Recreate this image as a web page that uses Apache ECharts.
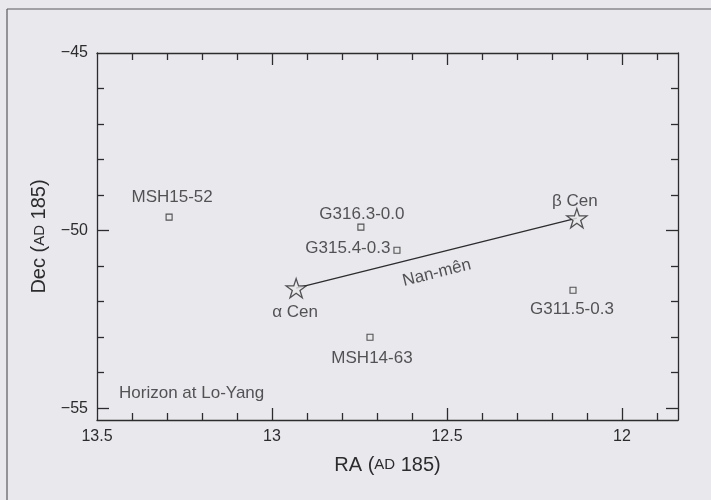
<!DOCTYPE html>
<html>
<head>
<meta charset="utf-8">
<script src="https://cdn.jsdelivr.net/npm/echarts@6/dist/echarts.min.js"></script>
<style>
html,body{margin:0;padding:0;background:#e9e8ec;}
#chart{width:711px;height:500px;}
</style>
</head>
<body>
<div id="chart"></div>
<script>
// ---- data ----
const snrNames = ['MSH15-52', 'G316.3-0.0', 'G315.4-0.3', 'MSH14-63', 'G311.5-0.3'];
const snrRA    = [13.294, 12.746, 12.643, 12.72, 12.14];
const snrDec   = [-49.62, -49.90, -50.55, -53.00, -51.68];

const starNames = ['α Cen', 'β Cen'];
const starRA    = [12.931, 12.129];
const starDec   = [-51.62, -49.65];

const asterismName = 'Nan-mên';
const asterismLabelAt = [12.529, -51.19];
const horizonText = 'Horizon at Lo-Yang';
const horizonAt = [13.437, -54.58];

const xMajorLabels = [12, 12.5, 13, 13.5];
const xMajorTicks = [12, 12.5, 13];
const xMinorTicks = [11.9, 12.1, 12.2, 12.3, 12.4, 12.6, 12.7, 12.8, 12.9, 13.1, 13.2, 13.3, 13.4];
const yMajorLabels = [-55, -50, -45];
const yMajorTicks = [-55, -50];
const yMinorTicks = [-54, -53, -52, -51, -49, -48, -47, -46];

const X_MIN = 11.84, X_MAX = 13.5;
const Y_MIN = -55.33, Y_MAX = -45;

// ---- styles ----
const ink = '#2c2c2e';
const bg = '#e9e8ec';
const font = '"Liberation Sans", Arial, Helvetica, sans-serif';

const labelPlace = {
  'MSH15-52':   {position: 'top', distance: 8, offset: [3, 0]},
  'G316.3-0.0': {position: 'top', distance: 1, offset: [1, 0]},
  'G315.4-0.3': {position: 'left', distance: 3, offset: [0, -2]},
  'MSH14-63':   {position: 'bottom', distance: 9, offset: [2, 0]},
  'G311.5-0.3': {position: 'bottom', distance: 7, offset: [-1, 0]},
  'α Cen':      {position: 'bottom', distance: 5, offset: [-1, 0]},
  'β Cen':      {position: 'top', distance: -2, offset: [-2, 0]}
};

const starPath = 'path://M50,2 L61.5,37 L98,37 L68.5,58.5 L79.5,94 L50,72 L20.5,94 L31.5,58.5 L2,37 L38.5,37 Z';

function xAxisDef(pos, ticks, len, showLabel, labelVals, showLine, name) {
  return {
    type: 'value', position: pos, gridIndex: 0, inverse: true,
    min: X_MIN, max: X_MAX,
    axisLine: {show: showLine, onZero: false, lineStyle: {color: ink, width: 1.3}},
    axisTick: {show: true, inside: true, length: len, customValues: ticks, lineStyle: {color: ink, width: 1.3}},
    axisLabel: {show: showLabel, customValues: labelVals, color: ink, fontSize: 16, fontFamily: font, margin: 9},
    splitLine: {show: false},
    name: name || '',
    nameLocation: 'middle', nameGap: 35,
    nameTextStyle: {
      color: ink, fontFamily: font,
      rich: {n: {fontSize: 20, color: ink, fontFamily: font}, s: {fontSize: 15, color: ink, fontFamily: font}}
    }
  };
}
function yAxisDef(pos, ticks, len, showLabel, labelVals, showLine, name) {
  return {
    type: 'value', position: pos, gridIndex: 0,
    min: Y_MIN, max: Y_MAX,
    axisLine: {show: showLine, onZero: false, lineStyle: {color: ink, width: 1.3}},
    axisTick: {show: true, inside: true, length: len, customValues: ticks, lineStyle: {color: ink, width: 1.3}},
    axisLabel: {show: showLabel, customValues: labelVals, color: ink, fontSize: 16, fontFamily: font, margin: 9,
      formatter: v => String(v).replace('-', '\u2212')},
    splitLine: {show: false},
    name: name || '',
    nameLocation: 'middle', nameGap: 47, nameRotate: 90,
    nameTextStyle: {
      color: ink, fontFamily: font,
      rich: {n: {fontSize: 20, color: ink, fontFamily: font}, s: {fontSize: 15, color: ink, fontFamily: font}}
    }
  };
}

const chart = echarts.init(document.getElementById('chart'));

const snrData = snrNames.map((n, i) => ({
  name: n, value: [snrRA[i], snrDec[i]],
  label: Object.assign({show: true, formatter: n}, labelPlace[n])
}));
const starData = starNames.map((n, i) => ({
  name: n, value: [starRA[i], starDec[i]],
  label: Object.assign({show: true, formatter: n}, labelPlace[n])
}));

const option = {
  backgroundColor: bg,
  animation: false,
  textStyle: {fontFamily: font, color: ink},
  grid: {left: 97, right: 33, top: 53, bottom: 80, containLabel: false},
  xAxis: [
    xAxisDef('bottom', xMajorTicks, 12, true, xMajorLabels, true, '{n|RA (}{s|AD}{n| 185)}'),
    xAxisDef('bottom', xMinorTicks, 7, false, [], false),
    xAxisDef('top', xMajorTicks, 12, false, [], true),
    xAxisDef('top', xMinorTicks, 7, false, [], false)
  ],
  yAxis: [
    yAxisDef('left', yMajorTicks, 12, true, yMajorLabels, true, '{n|Dec (}{s|AD}{n| 185)}'),
    yAxisDef('left', yMinorTicks, 7, false, [], false),
    yAxisDef('right', yMajorTicks, 12, false, [], true),
    yAxisDef('right', yMinorTicks, 7, false, [], false)
  ],
  series: [
    {
      type: 'line', xAxisIndex: 0, yAxisIndex: 0, z: 2,
      data: starRA.map((r, i) => [r, starDec[i]]),
      symbol: 'none', lineStyle: {color: ink, width: 1.3}, silent: true
    },
    {
      type: 'scatter', xAxisIndex: 0, yAxisIndex: 0, z: 3,
      data: snrData, symbol: 'rect', symbolSize: 6,
      itemStyle: {color: bg, borderColor: ink, borderWidth: 1.1},
      label: {color: ink, fontSize: 17, fontFamily: font}
    },
    {
      type: 'scatter', xAxisIndex: 0, yAxisIndex: 0, z: 4,
      data: starData, symbol: starPath, symbolSize: 20, symbolKeepAspect: true,
      itemStyle: {color: bg, borderColor: ink, borderWidth: 1.3},
      label: {color: ink, fontSize: 17, fontFamily: font}
    },
    {
      type: 'scatter', xAxisIndex: 0, yAxisIndex: 0, z: 5, silent: true,
      symbolSize: 0,
      data: [
        {value: asterismLabelAt, label: {show: true, formatter: asterismName, position: 'inside', rotate: 14, fontSize: 17, color: ink, fontFamily: font}},
        {value: horizonAt, label: {show: true, formatter: horizonText, position: 'right', distance: 0, fontSize: 17, color: ink, fontFamily: font}}
      ]
    }
  ],
  graphic: [
    {type: 'line', shape: {x1: 7, y1: 9, x2: 711, y2: 9}, style: {stroke: '#5a5a5e', lineWidth: 1.2}, silent: true},
    {type: 'line', shape: {x1: 7, y1: 9, x2: 7, y2: 500}, style: {stroke: '#5a5a5e', lineWidth: 1.2}, silent: true}
  ]
};
chart.setOption(option);
</script>
</body>
</html>
